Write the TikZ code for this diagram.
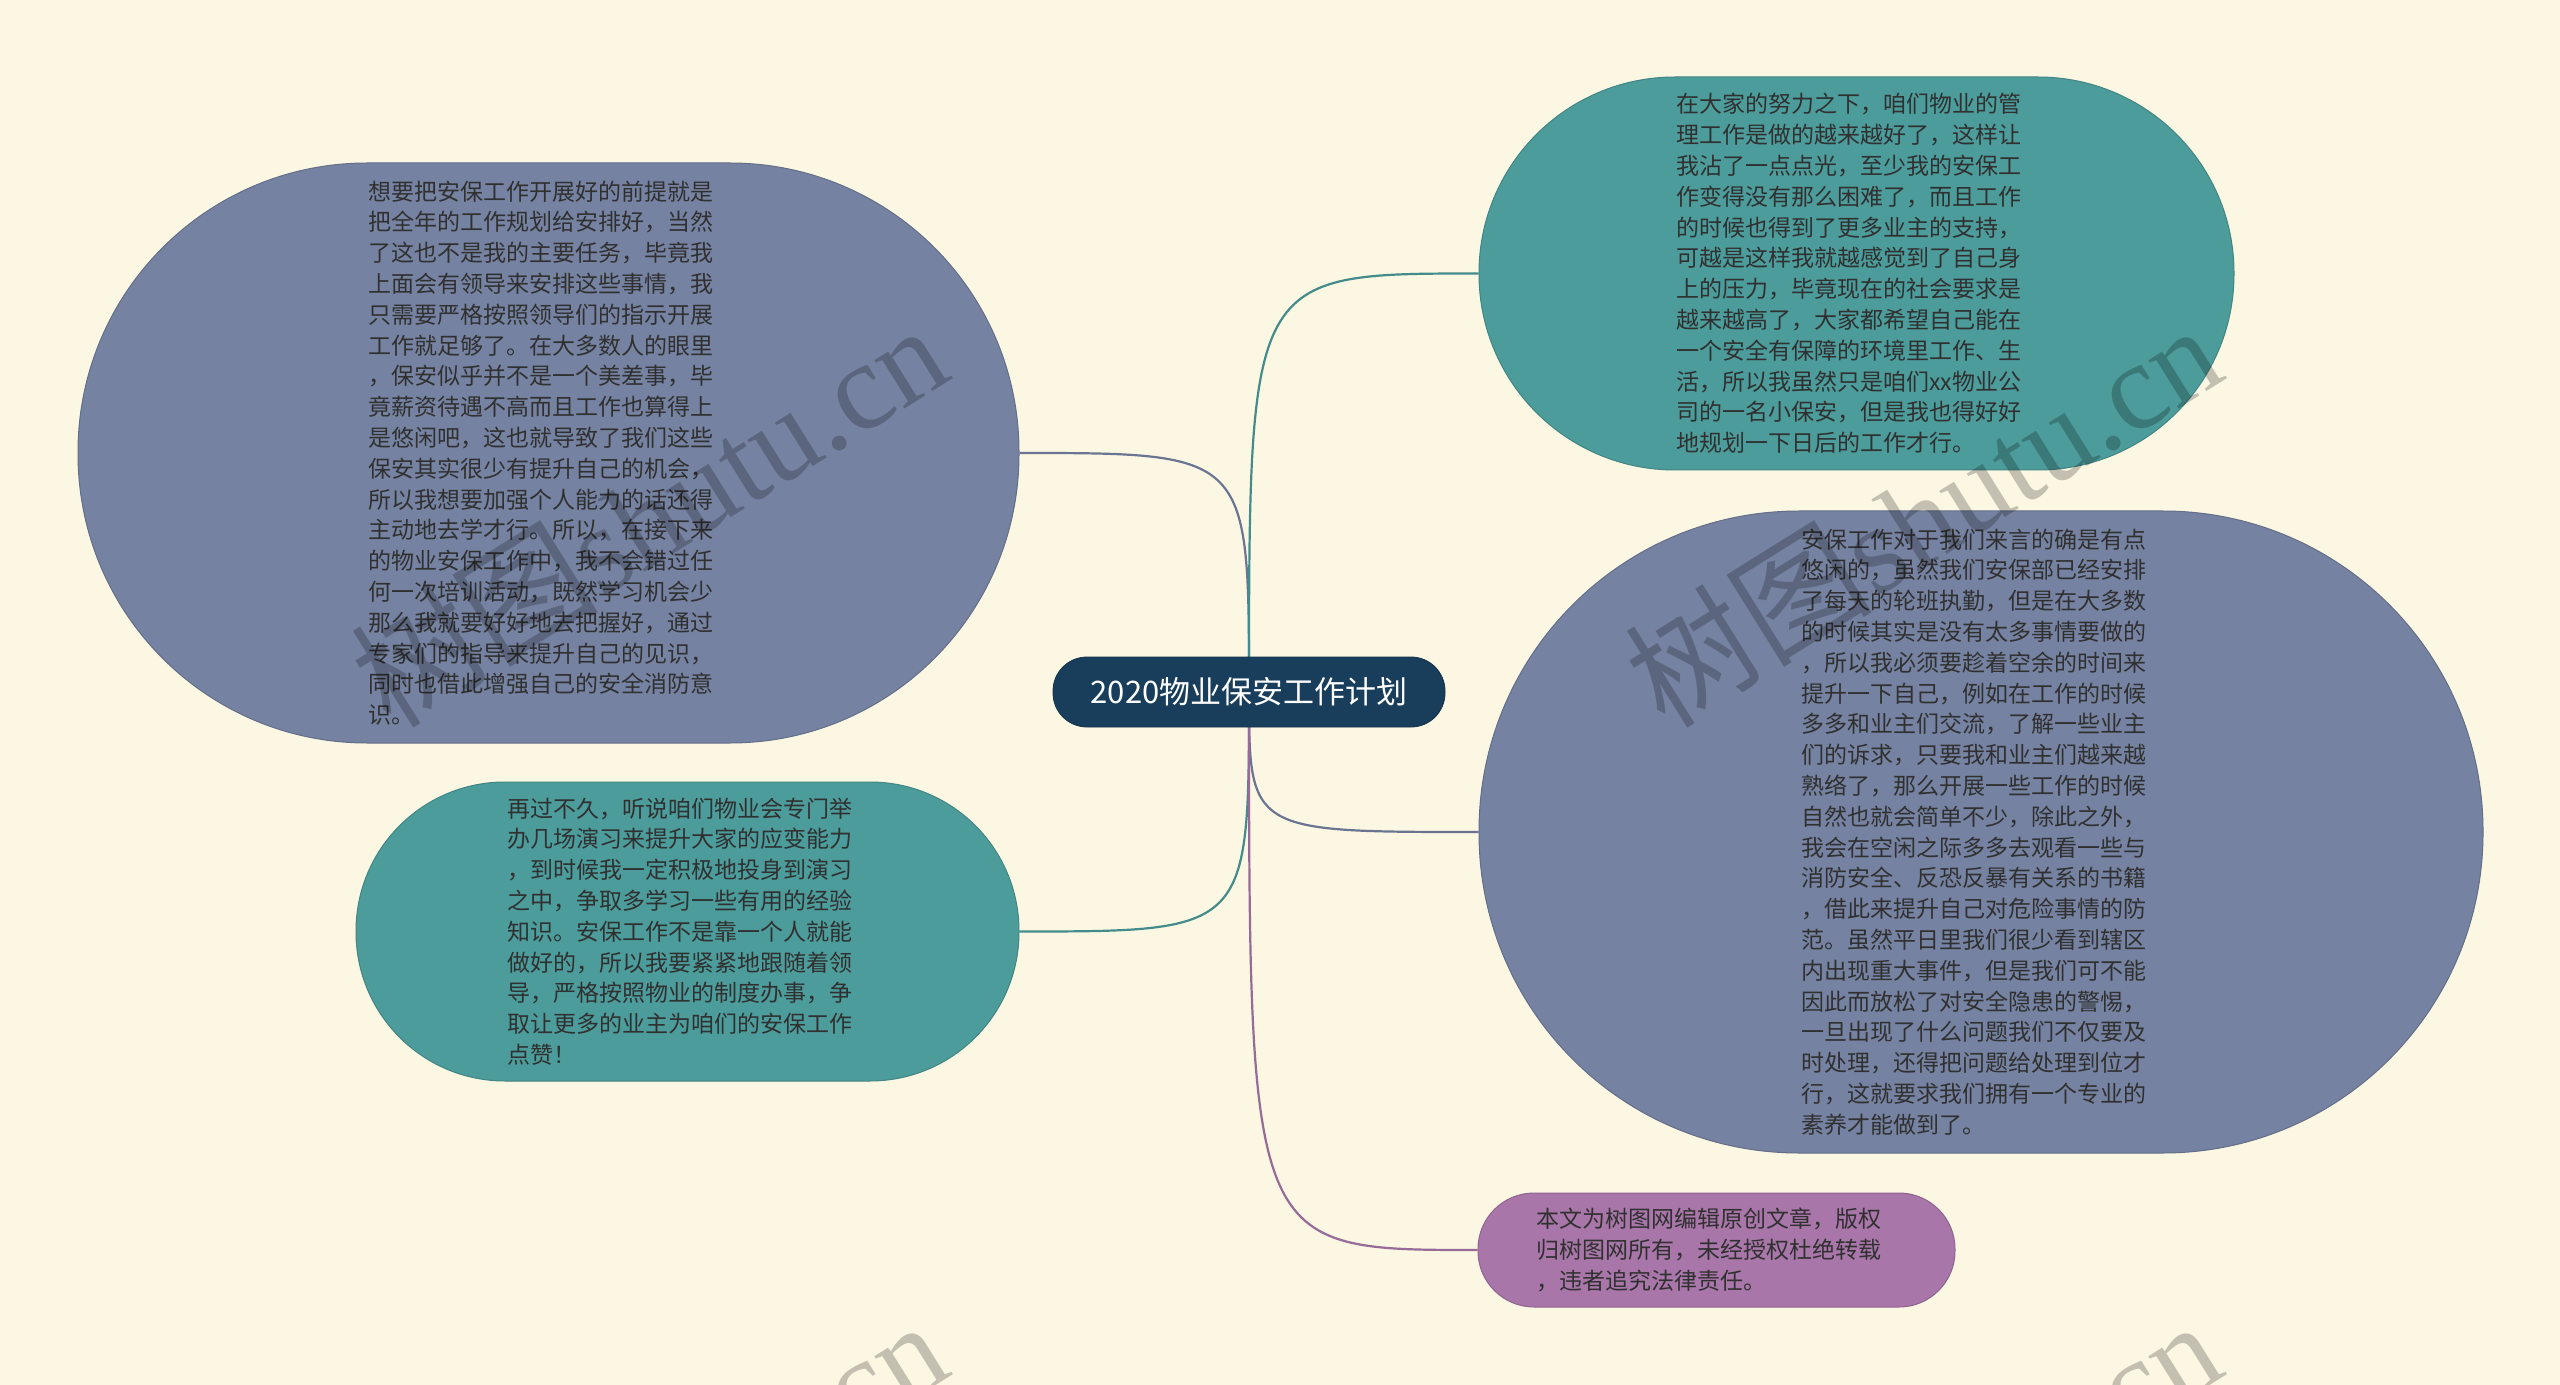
\documentclass[tikz,border=0pt]{standalone}
\usepackage{fontspec}
\setmainfont{Noto Sans CJK SC}
\newfontfamily\wmfont{Liberation Serif}
\usepackage{xcolor}
\definecolor{cBack}{HTML}{FBF7E3}
\definecolor{cRoot}{HTML}{183E5C}
\definecolor{cSlate}{HTML}{7582A1}
\definecolor{cTeal}{HTML}{4C9C9B}
\definecolor{cMauve}{HTML}{A876A8}
\definecolor{cInk}{HTML}{303030}
\usetikzlibrary{backgrounds}
\tikzset{
	bubble/.style={draw=#1!85!black, fill=#1, line width=0.5pt, inner sep=0pt, text width=180pt, align=left, text=cInk, font=\fontsize{11.5pt}{15.4pt}\selectfont},
	link/.style={line width=1.1pt, draw=#1!90!black},
	stamp/.style={rotate=32, opacity=0.22, text=black, font=\fontsize{62pt}{66pt}\selectfont},
}

\begin{document}
\begin{tikzpicture}[x=0.5pt,y=-0.5pt]
		\useasboundingbox (0,0) rectangle (2560,1385);
		\node[fill=cRoot, draw=cRoot!80!black, rounded corners=17pt, minimum width=196pt, minimum height=35pt, inner sep=0pt, text=white, font=\fontsize{15.5pt}{18pt}\selectfont] (plan) at (1249,692) {2020物业保安工作计划};
		\node[bubble=cSlate, minimum width=470.5pt, minimum height=290pt, rounded corners=144.5pt] (duty) at (548.5,453) {想要把安保工作开展好的前提就是\\
把全年的工作规划给安排好，当然\\
了这也不是我的主要任务，毕竟我\\
上面会有领导来安排这些事情，我\\
只需要严格按照领导们的指示开展\\
工作就足够了。在大多数人的眼里\\
，保安似乎并不是一个美差事，毕\\
竟薪资待遇不高而且工作也算得上\\
是悠闲吧，这也就导致了我们这些\\
保安其实很少有提升自己的机会，\\
所以我想要加强个人能力的话还得\\
主动地去学才行。所以，在接下来\\
的物业安保工作中，我不会错过任\\
何一次培训活动，既然学习机会少\\
那么我就要好好地去把握好，通过\\
专家们的指导来提升自己的见识，\\
同时也借此增强自己的安全消防意\\
识。};
		\node[bubble=cTeal, minimum width=331.5pt, minimum height=149.5pt, rounded corners=74.5pt] (drill) at (687.5,931.5) {再过不久，听说咱们物业会专门举\\
办几场演习来提升大家的应变能力\\
，到时候我一定积极地投身到演习\\
之中，争取多学习一些有用的经验\\
知识。安保工作不是靠一个人就能\\
做好的，所以我要紧紧地跟随着领\\
导，严格按照物业的制度办事，争\\
取让更多的业主为咱们的安保工作\\
点赞！};
		\node[bubble=cTeal, minimum width=377.5pt, minimum height=196.5pt, rounded corners=98pt] (effort) at (1856.5,273.5) {在大家的努力之下，咱们物业的管\\
理工作是做的越来越好了，这样让\\
我沾了一点点光，至少我的安保工\\
作变得没有那么困难了，而且工作\\
的时候也得到了更多业主的支持，\\
可越是这样我就越感觉到了自己身\\
上的压力，毕竟现在的社会要求是\\
越来越高了，大家都希望自己能在\\
一个安全有保障的环境里工作、生\\
活，所以我虽然只是咱们xx物业公\\
司的一名小保安，但是我也得好好\\
地规划一下日后的工作才行。};
		\node[bubble=cSlate, minimum width=502pt, minimum height=321pt, rounded corners=160pt] (leisure) at (1981,832) {安保工作对于我们来言的确是有点\\
悠闲的，虽然我们安保部已经安排\\
了每天的轮班执勤，但是在大多数\\
的时候其实是没有太多事情要做的\\
，所以我必须要趁着空余的时间来\\
提升一下自己，例如在工作的时候\\
多多和业主们交流，了解一些业主\\
们的诉求，只要我和业主们越来越\\
熟络了，那么开展一些工作的时候\\
自然也就会简单不少，除此之外，\\
我会在空闲之际多多去观看一些与\\
消防安全、反恐反暴有关系的书籍\\
，借此来提升自己对危险事情的防\\
范。虽然平日里我们很少看到辖区\\
内出现重大事件，但是我们可不能\\
因此而放松了对安全隐患的警惕，\\
一旦出现了什么问题我们不仅要及\\
时处理，还得把问题给处理到位才\\
行，这就要求我们拥有一个专业的\\
素养才能做到了。};
		\node[bubble=cMauve, minimum width=238.5pt, minimum height=57pt, rounded corners=28pt] (notice) at (1716.5,1250) {本文为树图网编辑原创文章，版权\\
归树图网所有，未经授权杜绝转载\\
，违者追究法律责任。};
		\begin{scope}[on background layer]
		\fill[cBack] (0,0) rectangle (2560,1385);
		\draw[link=cSlate] (plan.center) .. controls (plan.center |- duty.east) .. (duty.east);
		\draw[link=cTeal] (plan.center) .. controls (plan.center |- effort.west) .. (effort.west);
		\draw[link=cTeal] (plan.center) .. controls (plan.center |- drill.east) .. (drill.east);
		\draw[link=cSlate] (plan.center) .. controls (plan.center |- leisure.west) .. (leisure.west);
		\draw[link=cMauve] (plan.center) .. controls (plan.center |- notice.west) .. (notice.west);
		\end{scope}
		% watermarks
		\begin{scope}
		\clip (0,0) rectangle (2560,1385);
		\foreach \wx/\wy [count=\i] in {648/514, 1922/514, 648/1510, 1922/1510}
			\node[stamp] (wm\i) at (\wx,\wy) {树图{\wmfont shutu.cn}};
		\end{scope}
\end{tikzpicture}
\end{document}
